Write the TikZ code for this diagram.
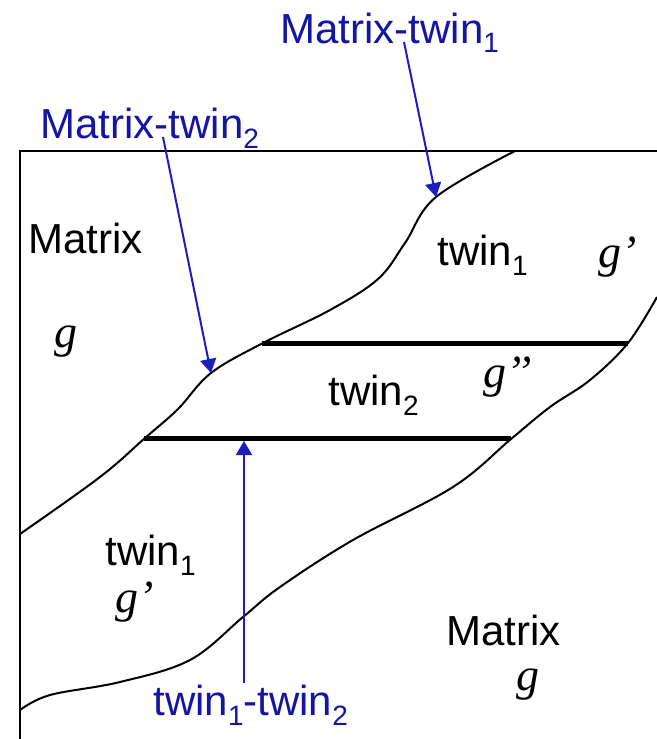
\documentclass[tikz,border=0pt]{standalone}
\usepackage{fontspec}
\setmainfont{Liberation Sans}
\newfontfamily\seriffont{Liberation Serif}
\usetikzlibrary{arrows.meta}

\definecolor{labelblue}{RGB}{20,20,165}
\definecolor{arrowblue}{RGB}{30,30,190}
\newcommand{\lowidx}[1]{\raisebox{-5pt}{\fontsize{14}{14}\selectfont #1}}

\begin{document}
\begin{tikzpicture}[
        x = 0.5pt, y = -0.5pt,
        >= {Triangle[length = 7pt, width = 8pt]},
        region/.style = {anchor = base west, inner sep = 0pt, font = \fontsize{21}{25}\selectfont},
        interface/.style = {region, text = labelblue},
        orient/.style = {anchor = base west, inner sep = 0pt, font = \seriffont\itshape\fontsize{23}{26}\selectfont},
        boundary/.style = {draw = black, line width = 1pt},
        twinplane/.style = {draw = black, line width = 2.5pt},
        pointer/.style = {draw = arrowblue, line width = 1pt, ->}
    ]

      \fill[white] (0,0) rectangle (657,739);
      \useasboundingbox (0,0) rectangle (657,739);

      % frame of the grain
      \draw[boundary] (657,151) -- (20,151) -- (20,739);

      % twin boundaries
      \draw[boundary] plot[smooth, tension = 0.6] coordinates {
            (515,151) (436,197) (405,243) (378,279) (330,310) (263,343)
            (211,373) (178,409) (145,438) (100,477) (20,534)};
      \draw[boundary] plot[smooth, tension = 0.6] coordinates {
            (657,297) (628,343) (590,380) (550,407) (511,439) (453,487)
            (353,540) (280,587) (243,617) (190,660) (120,682) (50,695)
            (20,710)};

      % twin2 planes
      \coordinate (p_ul) at (262,343);
      \coordinate (p_ur) at (628,343);
      \coordinate (p_ll) at (144,438);
      \coordinate (p_lr) at (511,438);
      \draw[twinplane] (p_ul) -- (p_ur);
      \draw[twinplane] (p_ll) -- (p_lr);

      % regions
      \node[region] (m_top) at (28,253)  {Matrix};
      \node[orient] (g_top) at (54,347)  {g};
      \node[region] (t1_up) at (437,265) {twin\lowidx{1}};
      \node[orient] (g1_up) at (598,267) {g’};
      \node[region] (t2)    at (328,405) {twin\lowidx{2}};
      \node[orient] (g2)    at (483,387) {g’’};
      \node[region] (t1_lo) at (105,565) {twin\lowidx{1}};
      \node[orient] (g1_lo) at (115,612) {g’};
      \node[region] (m_bot) at (446,645) {Matrix};
      \node[orient] (g_bot) at (516,690) {g};

      % interfaces
      \node[interface] (mt_1) at (280,43)  {Matrix-twin\lowidx{1}};
      \node[interface] (mt_2) at (40,138)  {Matrix-twin\lowidx{2}};
      \node[interface] (tt)   at (153,715) {twin\lowidx{1}-twin\lowidx{2}};

      \coordinate (mt_1foot) at (404,42);
      \coordinate (mt_2foot) at (163,137);
      \coordinate (tt_foot)  at (244,683);
      \coordinate (mt_1tip)  at (436,197);
      \coordinate (mt_2tip)  at (211,373);
      \coordinate (tt_tip)   at (244,441);

      \draw[pointer] (mt_1foot) -- (mt_1tip);
      \draw[pointer] (mt_2foot) -- (mt_2tip);
      \draw[pointer] (tt_foot)  -- (tt_tip);

\end{tikzpicture}
\end{document}
